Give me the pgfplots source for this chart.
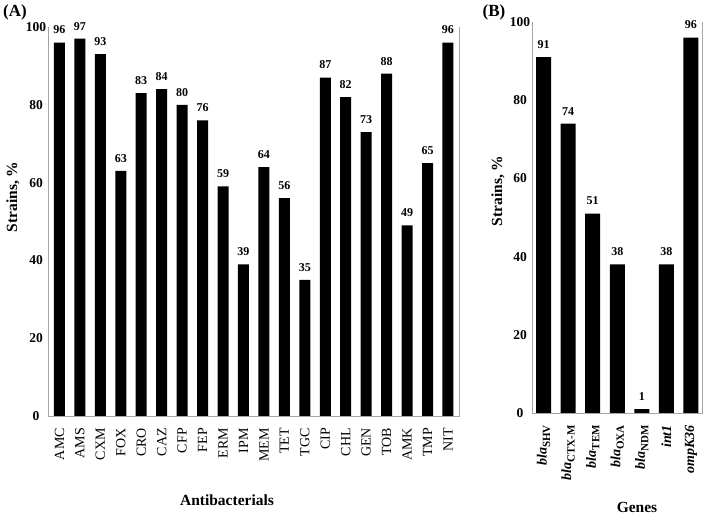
\documentclass[border=0pt]{standalone}
\usepackage{fontspec}
\setmainfont{Liberation Serif}
\usepackage{pgfplots}
\pgfplotsset{compat=1.18}
\definecolor{axisgray}{HTML}{A6A6A6}
\newcommand\bla[1]{\textbf{\textit{bla}}\raisebox{-3.5pt}{\fontsize{11}{11}\selectfont\bfseries #1}}

\pgfplotsset{
  panel/.style={
    scale only axis,
    ybar,
    ymin=0, ymax=100,
    ytick={0,20,...,100},
    xtick=data,
    axis line style={draw=none},
    major tick length=0pt,
    clip=false,
    /pgf/number format/assume math mode=true,
    yticklabel style={font=\fontsize{13.5}{13}\selectfont\bfseries, anchor=center, xshift=-12pt, inner sep=0pt},
    xticklabel style={font=\fontsize{14}{14}\selectfont, rotate=90, anchor=east, inner sep=0pt},
    xticklabel shift=12pt,
    nodes near coords,
    every node near coord/.append style={font=\fontsize{12}{12}\selectfont\bfseries, yshift=5pt, black},
  },
  bars/.style={fill=black, draw=none},
}

\begin{document}
\begin{tikzpicture}
\useasboundingbox (0,0) rectangle (707pt,516pt);

% (A) antibacterials
\begin{axis}[panel,
  at={(48pt,100pt)}, anchor=south west,
  width=411pt, height=389pt,
  xmin=-0.56, xmax=19.54,
  bar width=11pt,
  xticklabels={AMC,AMS,CXM,FOX,CRO,CAZ,CFP,FEP,ERM,IPM,MEM,TET,TGC,CIP,CHL,GEN,TOB,AMK,TMP,NIT},
]
\addplot[bars] coordinates {
(0,96) (1,97) (2,93) (3,63) (4,83) (5,84) (6,80) (7,76) (8,59) (9,39)
(10,64) (11,56) (12,35) (13,87) (14,82) (15,73) (16,88) (17,49) (18,65) (19,96)};
\draw[axisgray, line width=0.8pt] (rel axis cs:0,1) -- (rel axis cs:0,0) -- (rel axis cs:1,0) -- (rel axis cs:1,1);
\draw[axisgray, line width=0.8pt] (rel axis cs:0,0) -- ++(-4pt,0);
\end{axis}

% (B) genes
\begin{axis}[panel,
  at={(532pt,103pt)}, anchor=south west,
  width=170pt, height=391pt,
  xmin=-0.47, xmax=6.45,
  bar width=15pt,
  xticklabels={
    {\bla{SHV}},
    {\bla{CTX-M}},
    {\bla{TEM}},
    {\bla{OXA}},
    {\bla{NDM}},
    {\textbf{\textit{int1}}},
    {\textbf{\textit{ompK36}}}},
]
\addplot[bars] coordinates {(0,91) (1,74) (2,51) (3,38) (4,1) (5,38) (6,96)};
\draw[axisgray, line width=0.8pt] (rel axis cs:0,1) -- (rel axis cs:0,0) -- (rel axis cs:1,0) -- (rel axis cs:1,1);
\draw[axisgray, line width=0.8pt] (rel axis cs:0,0) -- ++(-4pt,0);
\end{axis}

\node[font=\fontsize{17}{17}\selectfont\bfseries] at (15pt,504pt) {(A)};
\node[font=\fontsize{17}{17}\selectfont\bfseries] at (494pt,504pt) {(B)};
\node[rotate=90, font=\fontsize{15.5}{16}\selectfont\bfseries] at (13pt,319pt) {Strains, \%};
\node[rotate=90, font=\fontsize{15.5}{16}\selectfont\bfseries] at (498pt,325pt) {Strains, \%};
\node[font=\fontsize{15.5}{16}\selectfont\bfseries] at (227pt,16pt) {Antibacterials};
\node[font=\fontsize{15.5}{16}\selectfont\bfseries] at (637pt,9pt) {Genes};
\end{tikzpicture}
\end{document}
